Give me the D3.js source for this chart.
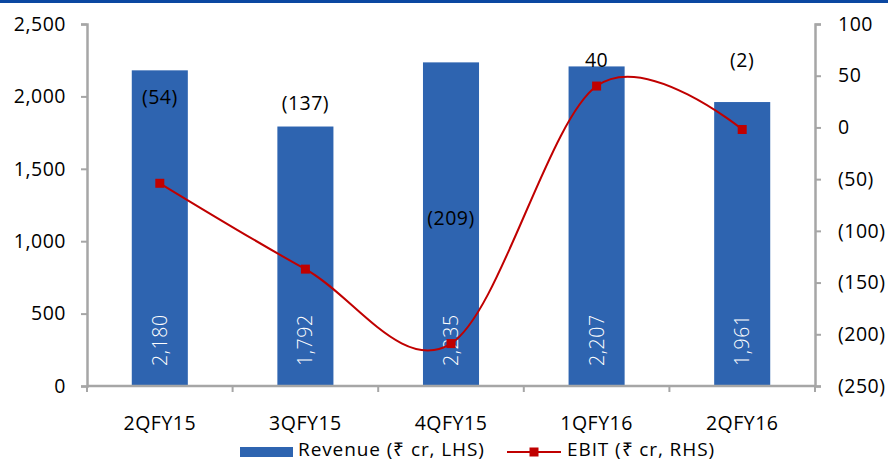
<!DOCTYPE html>
<html>
<head>
<meta charset="utf-8">
<script src="https://cdn.jsdelivr.net/npm/d3@7"></script>
<style>
  html, body { margin: 0; padding: 0; background: #fff; }
  svg { display: block; font-family: "Open Sans", sans-serif; }
</style>
</head>
<body>
<svg id="chart" width="888" height="461"></svg>
<script>
// Quarterly revenue (bars, left axis) and EBIT (line, right axis), ₹ crore
const quarters = ["2QFY15", "3QFY15", "4QFY15", "1QFY16", "2QFY16"];
const revenue = [2180, 1792, 2235, 2207, 1961];
const ebit = [-54, -137, -209, 40, -2];
const leftTicks = [0, 500, 1000, 1500, 2000, 2500];
const rightTicks = [-250, -200, -150, -100, -50, 0, 50, 100];
// vertical offset of each EBIT label from its point (px)
const ebitLabelDy = [-86, -166, -125, -26, -69];

const W = 888, H = 461;
const plot = { left: 87, right: 815, top: 24, bottom: 386 };
const barColor = "#2E64B0";
const lineColor = "#C00000";
const axisColor = "#A6A6A6";
const fontFamily = "Open Sans, sans-serif";
const fontSize = 19.5;

const svg = d3.select("#chart");

// top rule
svg.append("rect").attr("x", 0).attr("y", 0).attr("width", W).attr("height", 3)
  .attr("fill", "#0B47A1");

const x = d3.scaleBand().domain(quarters).range([plot.left, plot.right]).padding(0);
const yL = d3.scaleLinear().domain([0, 2500]).range([plot.bottom, plot.top]);
const yR = d3.scaleLinear().domain([-250, 100]).range([plot.bottom, plot.top]);

const fmtL = d3.format(",");
const fmtR = v => v < 0 ? "(" + Math.abs(v) + ")" : String(v);

// bars
const barW = x.bandwidth() * 0.385;
svg.append("g").selectAll("rect").data(quarters).join("rect")
  .attr("x", (d) => x(d) + x.bandwidth() / 2 - barW / 2)
  .attr("y", (d, i) => yL(revenue[i]))
  .attr("width", barW)
  .attr("height", (d, i) => yL(0) - yL(revenue[i]))
  .attr("fill", barColor);

// revenue labels inside bars, rotated
svg.append("g").selectAll("text").data(quarters).join("text")
  .attr("transform", (d) => `translate(${x(d) + x.bandwidth() / 2 + 7},${plot.bottom - 20}) rotate(-90)`)
  .attr("fill", "#fff")
  .attr("font-size", fontSize)
  .attr("font-weight", 300)
  .attr("letter-spacing", 0.6)
  .attr("text-anchor", "start")
  .text((d, i) => fmtL(revenue[i]));

// axes
const axL = d3.axisLeft(yL).tickValues(leftTicks).tickFormat(fmtL).tickSize(6).tickPadding(15);
const gL = svg.append("g").attr("transform", `translate(${plot.left},0)`).call(axL);
const axR = d3.axisRight(yR).tickValues(rightTicks).tickFormat(fmtR).tickSize(6).tickPadding(17);
const gR = svg.append("g").attr("transform", `translate(${plot.right},0)`).call(axR);
const axB = d3.axisBottom(x).tickSize(0).tickPadding(30);
const gB = svg.append("g").attr("transform", `translate(0,${plot.bottom})`).call(axB);

[gL, gR, gB].forEach(g => {
  g.selectAll(".domain").attr("stroke", axisColor).attr("stroke-width", 2.5);
  g.selectAll(".tick line").attr("stroke", axisColor).attr("stroke-width", 2);
  g.selectAll("text").attr("font-size", fontSize).attr("fill", "#000")
    .attr("font-family", fontFamily).attr("letter-spacing", 0.5);
});
gB.select(".domain").attr("d", `M${plot.left},0H${plot.right}`);
// category boundary ticks
const bounds = quarters.map(q => x(q)).concat([plot.right]);
gB.append("g").selectAll("line").data(bounds).join("line")
  .attr("x1", d => d).attr("x2", d => d).attr("y1", 0).attr("y2", 6)
  .attr("stroke", axisColor).attr("stroke-width", 2);

// EBIT line
const pts = quarters.map((q, i) => [x(q) + x.bandwidth() / 2, yR(ebit[i])]);
svg.append("path")
  .attr("d", d3.line().curve(d3.curveCardinal.tension(0))(pts))
  .attr("fill", "none").attr("stroke", lineColor).attr("stroke-width", 2);
svg.append("g").selectAll("rect").data(pts).join("rect")
  .attr("x", d => d[0] - 4.5).attr("y", d => d[1] - 4.5)
  .attr("width", 9).attr("height", 9).attr("fill", lineColor);

// EBIT labels
svg.append("g").selectAll("text").data(pts).join("text")
  .attr("x", d => d[0])
  .attr("y", (d, i) => d[1] + ebitLabelDy[i])
  .attr("dy", "0.35em")
  .attr("text-anchor", "middle")
  .attr("font-size", fontSize)
  .attr("letter-spacing", 0.5)
  .attr("fill", "#000")
  .text((d, i) => fmtR(ebit[i]));

// legend
const lg = svg.append("g").attr("font-size", 19).attr("letter-spacing", 0.9);
lg.append("rect").attr("x", 240).attr("y", 447).attr("width", 53).attr("height", 10).attr("fill", barColor);
lg.append("text").attr("x", 298).attr("y", 456).text("Revenue (₹ cr, LHS)");
lg.append("line").attr("x1", 507).attr("x2", 561).attr("y1", 452).attr("y2", 452)
  .attr("stroke", lineColor).attr("stroke-width", 2);
lg.append("rect").attr("x", 529.5).attr("y", 447.5).attr("width", 9).attr("height", 9).attr("fill", lineColor);
lg.append("text").attr("x", 567).attr("y", 456).text("EBIT (₹ cr, RHS)");
</script>
</body>
</html>
